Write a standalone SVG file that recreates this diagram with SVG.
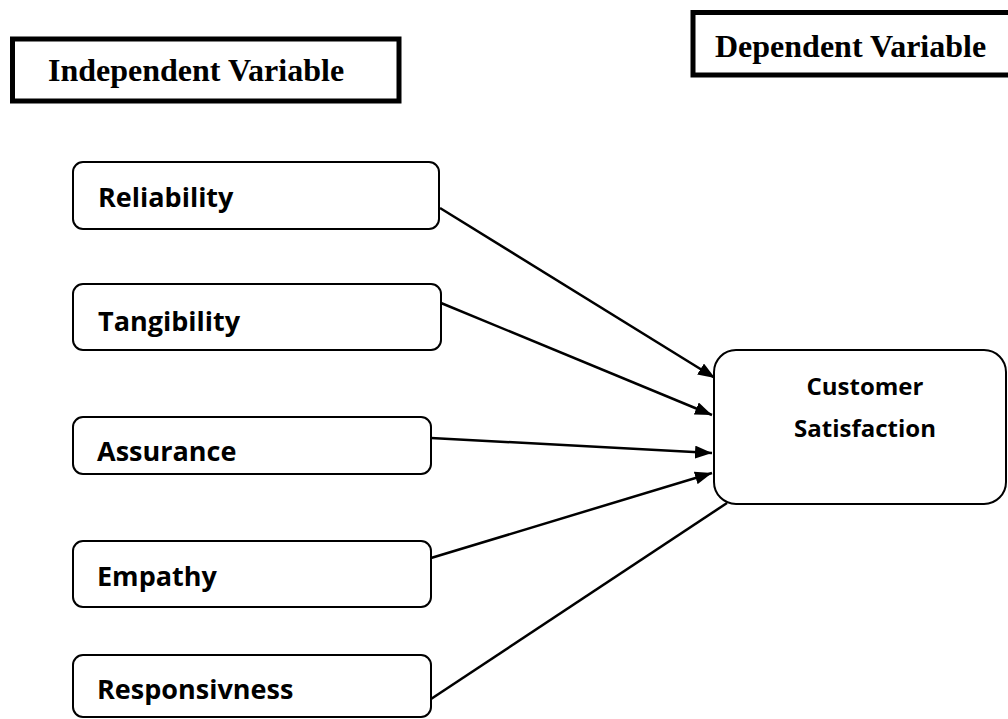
<svg xmlns="http://www.w3.org/2000/svg" width="1008" height="719" viewBox="0 0 1008 719">
<defs>
<style>
.hdr{fill:#fff;stroke:#000;stroke-width:5}
.hdrt{font-family:"Liberation Serif","Times New Roman",serif;font-weight:bold;font-size:32px;fill:#000}
.box{fill:#fff;stroke:#000;stroke-width:2}
.lbl{font-family:"Open Sans","Noto Sans",sans-serif;font-weight:bold;font-size:27px;fill:#000}
.lbl2{font-family:"Open Sans","Noto Sans",sans-serif;font-weight:bold;font-size:24px;fill:#000}
.con{stroke:#000;stroke-width:2.5;fill:none}
.arr{marker-end:url(#arr)}
</style>
<marker id="arr" viewBox="0 0 17 13" refX="17" refY="6.5" markerWidth="17" markerHeight="13" markerUnits="userSpaceOnUse" orient="auto">
<path d="M0,0 L17,6.5 L0,13 z" fill="#000"/>
</marker>
</defs>
<rect width="1008" height="719" fill="#fff"/>
<g id="independent-variable">
<rect class="hdr" x="12.5" y="39" width="386.5" height="62"/>
<text class="hdrt" x="48" y="81">Independent Variable</text>
</g>
<g id="dependent-variable">
<rect class="hdr" x="693" y="12.5" width="320" height="62.5"/>
<text class="hdrt" x="715" y="57">Dependent Variable</text>
</g>
<g id="connectors">
<line class="con arr" x1="440" y1="208" x2="715" y2="378"/>
<line class="con arr" x1="441" y1="303" x2="712" y2="415"/>
<line class="con arr" x1="431" y1="438" x2="712" y2="453"/>
<line class="con arr" x1="431" y1="558" x2="712" y2="473"/>
<line class="con" x1="431" y1="699" x2="727" y2="503"/>
</g>
<g id="reliability">
<rect class="box" x="73" y="162" width="366" height="67" rx="10"/>
<text class="lbl" x="98" y="207">Reliability</text>
</g>
<g id="tangibility">
<rect class="box" x="73" y="284" width="368" height="66" rx="10"/>
<text class="lbl" x="98" y="331">Tangibility</text>
</g>
<g id="assurance">
<rect class="box" x="73" y="417" width="358" height="57" rx="10"/>
<text class="lbl" x="97" y="461">Assurance</text>
</g>
<g id="empathy">
<rect class="box" x="73" y="541" width="358" height="66" rx="10"/>
<text class="lbl" x="97" y="586">Empathy</text>
</g>
<g id="responsivness">
<rect class="box" x="73" y="655" width="358" height="62" rx="10"/>
<text class="lbl" x="97" y="699">Responsivness</text>
</g>
<g id="customer-satisfaction">
<rect class="box" x="714" y="350" width="292" height="154" rx="22"/>
<text class="lbl2" x="865" y="395" text-anchor="middle">Customer</text>
<text class="lbl2" x="865" y="437" text-anchor="middle">Satisfaction</text>
</g>
</svg>
